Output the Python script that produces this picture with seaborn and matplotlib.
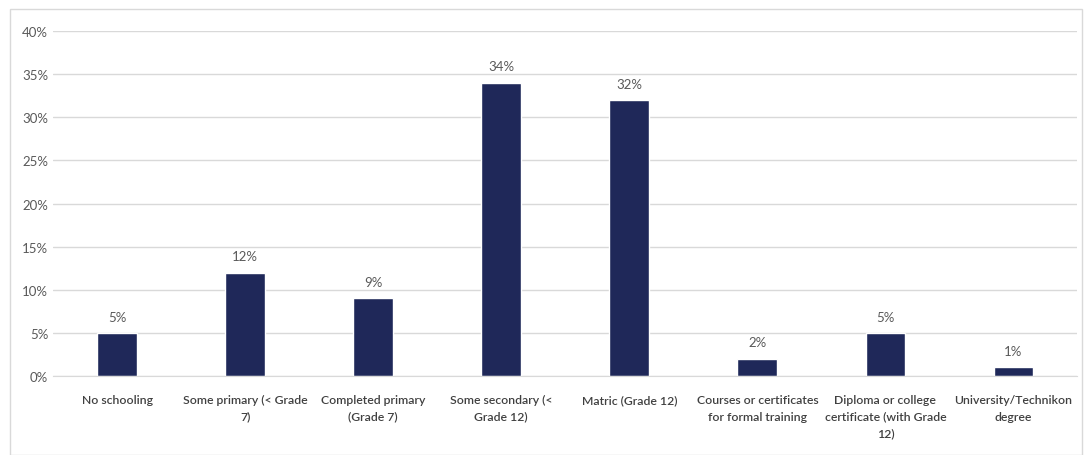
import matplotlib
matplotlib.use("Agg")
import matplotlib.pyplot as plt
import seaborn as sns
import pandas as pd
from matplotlib.patches import Rectangle
from matplotlib.ticker import FuncFormatter

categories = [
    "No schooling",
    "Some primary (< Grade\n7)",
    "Completed primary\n(Grade 7)",
    "Some secondary (<\nGrade 12)",
    "Matric (Grade 12)",
    "Courses or certificates\nfor formal training",
    "Diploma or college\ncertificate (with Grade\n12)",
    "University/Technikon\ndegree",
]
shares = [5, 12, 9, 34, 32, 2, 5, 1]
yticks = [0, 5, 10, 15, 20, 25, 30, 35, 40]

df = pd.DataFrame({"level": categories, "share": shares})

sns.set_style("white")
plt.rcParams["font.family"] = ["Lato", "DejaVu Sans"]
text_grey = "#595959"

fig = plt.figure(figsize=(10.85, 4.56), dpi=100)
ax = fig.add_axes([0.049, 0.173, 0.944, 0.757])

sns.barplot(data=df, x="level", y="share", color="#1f2859", width=0.31,
            saturation=1, ax=ax)

for i, v in enumerate(shares):
    ax.text(i, v + 1.2, f"{v}%", ha="center", va="bottom",
            fontsize=9.5, color=text_grey)

ax.set_ylim(0, 40)
ax.set_yticks(yticks)
ax.yaxis.set_major_formatter(FuncFormatter(lambda v, p: f"{v:.0f}%"))
ax.grid(axis="y", color="#d9d9d9", linewidth=1)
ax.set_axisbelow(True)
ax.set_xlabel("")
ax.set_ylabel("")
ax.tick_params(axis="both", length=0, labelsize=9.5, colors=text_grey)
ax.tick_params(axis="x", pad=13, labelsize=8.8)
for lbl in ax.get_xticklabels():
    lbl.set_fontweight("semibold")
    lbl.set_color("#404040")
    lbl.set_linespacing(1.6)
for s in ["top", "right", "left"]:
    ax.spines[s].set_visible(False)
ax.spines["bottom"].set_color("#d9d9d9")

# chart frame
fig.patches.append(Rectangle((10 / 1085, 0.0), 1072 / 1085, 446 / 456,
                             transform=fig.transFigure, fill=False,
                             edgecolor="#d9d9d9", linewidth=1))

fig.savefig("out.png", dpi=100)
